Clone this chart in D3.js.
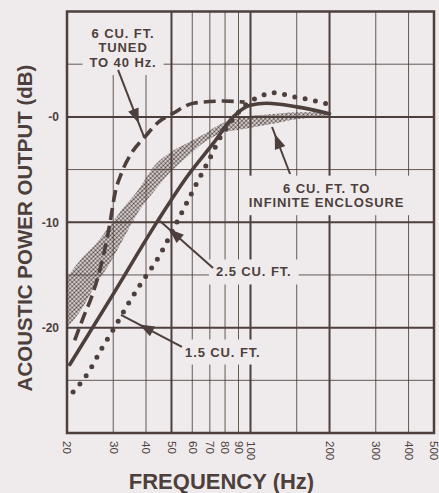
<!DOCTYPE html>
<html><head><meta charset="utf-8">
<script src="https://cdn.jsdelivr.net/npm/d3@7"></script>
<style>html,body{margin:0;padding:0;background:#efebec;} svg{display:block}</style>
</head><body>
<script>
// ---- axis ticks ----
const freqTicks = [20,30,40,50,60,70,80,90,100,200,300,400,500];
const freqGridThin = [30,40,60,70,80,90,150,300,400];
const freqGridThick = [50,100,200];
const dbTicks = [0,-10,-20];
const dbTickLabels = ["-0","-10","-20"];
const dbGridThin = [5,-5,-15,-25];
const dbGridThick = [0,-10,-20];

// ---- series: 6 cu ft tuned to 40 Hz (dashed) ----
const tunedFreq = [21.4,23.1,24.8,26.7,29.0,30.5,32.3,35.3,39.6,44.6,50.8,60.6,78.6,95];
const tunedDb   = [-21.2,-19.0,-17.1,-14.5,-10.4,-7.2,-5.3,-3.4,-1.9,-0.5,0.35,1.3,1.5,1.4];

// ---- 2.5 cu ft (solid) ----
const solidFreq = [20.5,30.2,44.5,57.2,72.2,86.0,99.6,115.3,150,200];
const solidDb   = [-23.5,-16.7,-9.8,-5.7,-2.5,0,1.1,1.3,0.95,0.3];

// ---- 1.5 cu ft (dotted) ----
const dotFreq = [21.1,24.2,27.1,30.5,34.2,38.5,43.7,53.9,62.4,70.1,77.7,83.6,95.3,110.4,120.5,146.5,177.7,197.8];
const dotDb   = [-26.1,-24.2,-22.0,-19.9,-17.75,-15.7,-13.7,-9.4,-6.3,-3.9,-1.7,-0.6,1.1,2.0,2.3,1.9,1.5,1.2];

// ---- 6 cu ft to infinite enclosure (stippled band) ----
const bandFreq = [20.2,22.8,25.6,28.8,32.4,37.9,42.5,49.3,57.3,65.9,76.6,97,118.7,151.8,200];
const bandHi   = [-15.1,-13.4,-12.1,-10.5,-8.8,-6.7,-4.8,-3.4,-2.5,-1.7,-0.7,0.07,0.25,0.45,0.45];
const bandLo   = [-19.9,-18.2,-16.0,-14.1,-11.8,-8.8,-7.2,-5.3,-3.8,-2.5,-1.6,-1.1,-0.7,-0.2,0];

// ---- annotations (data units) ----
const annoText = [["6 CU. FT.","TUNED","TO 40 Hz."],["6 CU. FT. TO","INFINITE ENCLOSURE"],["2.5 CU. FT."],["1.5 CU. FT."]];
const annoFreq = [32.7,195,73.9,56.3];
const annoDb   = [7.93,-6.75,-14.7,-22.3];
const annoAnchor = ["middle","middle","start","start"];
const arrowFrom = [[31.3,4.45],[141.5,-5.42],[72.0,-14.34],[54.8,-21.83]];
const arrowTo   = [[39.3,-1.9],[120.8,-0.96],[45.2,-9.88],[32.1,-18.79]];
const arrowHeadAt = [0.8,0.85,0.83,0.7];

const W=439,H=493, BG="#efebec", INK="#4d3f3b";
const x = d3.scaleLog().domain([20,500]).range([67,434]);
const y = d3.scaleLinear().domain([-30,10]).range([433,11.5]);

const svg = d3.select("body").append("svg").attr("width",W).attr("height",H);
svg.append("rect").attr("width",W).attr("height",H).attr("fill",BG);
const defs = svg.append("defs");
const pat = defs.append("pattern").attr("id","stip").attr("patternUnits","userSpaceOnUse")
  .attr("width",3).attr("height",3).attr("patternTransform","rotate(45)");
pat.append("circle").attr("cx",1.5).attr("cy",1.5).attr("r",1.15).attr("fill",INK);

const gGrid = svg.append("g"), gKnock = svg.append("g"), gCurve = svg.append("g"),
      gFrame = svg.append("g"), gText = svg.append("g");

const [x0,x1] = x.range(), [yb,yt] = y.range();
gGrid.selectAll(".vt").data(freqGridThin).join("line").attr("x1",d=>x(d)).attr("x2",d=>x(d))
  .attr("y1",yt).attr("y2",yb).attr("stroke",INK).attr("stroke-width",1).attr("opacity",0.85);
gGrid.selectAll(".vT").data(freqGridThick).join("line").attr("x1",d=>x(d)).attr("x2",d=>x(d))
  .attr("y1",yt).attr("y2",yb).attr("stroke",INK).attr("stroke-width",2);
gGrid.selectAll(".ht").data(dbGridThin).join("line").attr("y1",d=>y(d)).attr("y2",d=>y(d))
  .attr("x1",x0).attr("x2",x1).attr("stroke",INK).attr("stroke-width",1).attr("opacity",0.85);
gGrid.selectAll(".hT").data(dbGridThick).join("line").attr("y1",d=>y(d)).attr("y2",d=>y(d))
  .attr("x1",x0).attr("x2",x1).attr("stroke",INK).attr("stroke-width",2);

// band
const band = bandFreq.map((f,i)=>({f,hi:bandHi[i],lo:bandLo[i]}));
gCurve.append("path").datum(band)
  .attr("d",d3.area().x(d=>x(d.f)).y0(d=>y(d.lo)).y1(d=>y(d.hi)).curve(d3.curveMonotoneX))
  .attr("fill","url(#stip)");

const line = d3.line().x(d=>x(d[0])).y(d=>y(d[1])).curve(d3.curveMonotoneX);
gCurve.append("path").datum(tunedFreq.map((f,i)=>[f,tunedDb[i]])).attr("d",line)
  .attr("fill","none").attr("stroke",INK).attr("stroke-width",3.6).attr("stroke-dasharray","12 6");
gCurve.append("path").datum(solidFreq.map((f,i)=>[f,solidDb[i]])).attr("d",line)
  .attr("fill","none").attr("stroke",INK).attr("stroke-width",3.6).attr("stroke-linecap","round");
gCurve.append("path").datum(dotFreq.map((f,i)=>[f,dotDb[i]])).attr("d",line)
  .attr("fill","none").attr("stroke",INK).attr("stroke-width",5).attr("stroke-linecap","round")
  .attr("stroke-dasharray","0 10.5");

// frame
gFrame.append("rect").attr("x",x0).attr("y",yt).attr("width",x1-x0).attr("height",yb-yt)
  .attr("fill","none").attr("stroke",INK).attr("stroke-width",2.5);

// axes
const ax = gText.append("g").attr("transform",`translate(0,${yb})`)
  .call(d3.axisBottom(x).tickValues(freqTicks).tickFormat(d3.format("d")).tickSize(0));
ax.select(".domain").remove();
ax.selectAll("text").attr("transform","rotate(90)").attr("x",8).attr("y",0).attr("dy","0.36em")
  .style("text-anchor","start").attr("fill",INK)
  .style("font-family","'Liberation Sans Narrow','Liberation Sans',sans-serif").style("font-size","11.5px");
const ay = gText.append("g").attr("transform",`translate(${x0},0)`)
  .call(d3.axisLeft(y).tickValues(dbTicks).tickFormat((d,i)=>dbTickLabels[i]).tickSize(0).tickPadding(8));
ay.select(".domain").remove();
ay.selectAll("text").attr("fill",INK).style("font-family","'Liberation Sans',sans-serif")
  .style("font-size","12px").style("font-weight","bold");

gText.append("text").attr("transform",`translate(24,${228}) rotate(-90)`)
  .attr("text-anchor","middle").attr("dominant-baseline","central")
  .style("font-family","'Liberation Sans',sans-serif").style("font-weight","bold").style("font-size","20.5px")
  .attr("fill",INK).text("ACOUSTIC POWER OUTPUT (dB)");
gText.append("text").attr("x",221.5).attr("y",481).attr("text-anchor","middle").attr("dominant-baseline","central")
  .style("font-family","'Liberation Sans',sans-serif").style("font-weight","bold").style("font-size","22px")
  .attr("fill",INK).text("FREQUENCY (Hz)");

// annotations
annoText.forEach((lines,i)=>{
  const t = gText.append("text").attr("text-anchor",annoAnchor[i])
    .style("font-family","'Liberation Sans',sans-serif").style("font-weight","bold")
    .style("font-size","13px").style("letter-spacing","0.9px").attr("fill",INK);
  lines.forEach((s,j)=>t.append("tspan").attr("x",x(annoFreq[i])).attr("y",y(annoDb[i])+j*14.5)
    .attr("dy","0.36em").text(s));
  const b = t.node().getBBox();
  const padT = i===0 ? 16 : 5;
  gKnock.append("rect").attr("x",b.x-7).attr("y",b.y-padT).attr("width",b.width+14)
    .attr("height",b.height+padT+5).attr("fill",BG);
  // arrow
  const [fa,da] = arrowFrom[i], [fb,db] = arrowTo[i];
  const ax1=x(fa), ay1=y(da), ax2=x(fb), ay2=y(db);
  gText.append("line").attr("x1",ax1).attr("y1",ay1).attr("x2",ax2).attr("y2",ay2)
    .attr("stroke",INK).attr("stroke-width",2);
  const k = arrowHeadAt[i];
  const hx = ax1+(ax2-ax1)*k, hy = ay1+(ay2-ay1)*k;
  const ang = Math.atan2(ay2-ay1, ax2-ax1), L=15, Wd=5.5;
  const bx = hx-L*Math.cos(ang), by = hy-L*Math.sin(ang);
  const px=-Math.sin(ang), py=Math.cos(ang);
  gText.append("path").attr("d",`M${hx},${hy}L${bx+px*Wd},${by+py*Wd}L${bx-px*Wd},${by-py*Wd}Z`)
    .attr("fill",INK);
});
</script>
</body></html>
